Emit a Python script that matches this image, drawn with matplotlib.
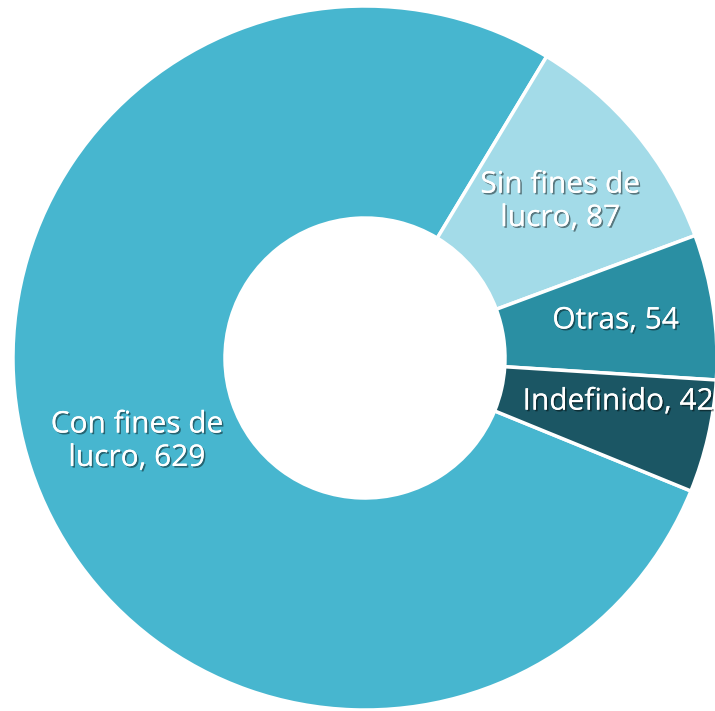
import matplotlib
matplotlib.use("Agg")
import matplotlib.pyplot as plt
import matplotlib.patheffects as pe
import numpy as np

categories = ["Con fines de\nlucro", "Sin fines de\nlucro", "Otras", "Indefinido"]
values = [629, 87, 54, 42]
colors = ["#47B6CF", "#A3DBE8", "#2A8FA3", "#1B5664"]

W, H = 715, 711
fig = plt.figure(figsize=(W / 100, H / 100), dpi=100)
ax = fig.add_axes([0, 0, 1, 1])

cx, cy, R, r_in = 365, 353, 352, 140
wedges, _ = ax.pie(values, colors=colors, startangle=-22.2, counterclock=False,
                   center=(cx, cy), radius=R, frame=True,
                   wedgeprops=dict(width=R - r_in, edgecolor="white", linewidth=2.5))
ax.set_xlim(0, W)
ax.set_ylim(0, H)
ax.set_aspect("equal")
ax.axis("off")

shadow = [pe.withSimplePatchShadow(offset=(1.2, -1.2), shadow_rgbFace="black", alpha=0.45),
          pe.Normal()]
label_r = [0.69, 0.71, 0.72, 0.73]
angle_shift = [1.8, -1.0, 0, 3.0]
for w, cat, v, lr, sh in zip(wedges, categories, values, label_r, angle_shift):
    mid = np.deg2rad((w.theta1 + w.theta2) / 2 + sh)
    x = cx + lr * R * np.cos(mid)
    y = cy + lr * R * np.sin(mid)
    t = ax.text(x, y, f"{cat}, {v}", ha="center", va="center", color="white",
                fontsize=21.5, family=["Open Sans", "DejaVu Sans"], linespacing=1.2)
    t.set_path_effects(shadow)

fig.savefig("out.png", dpi=100)
